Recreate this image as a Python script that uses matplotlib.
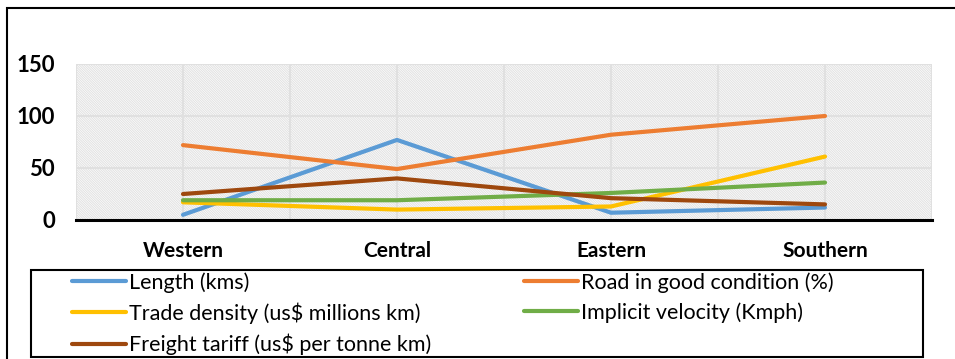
import matplotlib
matplotlib.use("Agg")
import matplotlib.pyplot as plt
from matplotlib.patches import Rectangle
import numpy as np

# ---------------------------------------------------------------------
# Data
# ---------------------------------------------------------------------
regions = ["Western", "Central", "Eastern", "Southern"]
length_kms = [5, 77, 7, 12]
road_good = [72, 49, 82, 100]
trade_density = [17, 10, 13, 61]
implicit_velocity = [19, 19, 26, 36]
freight_tariff = [25, 40, 21, 15]

series = [
    ("Length (kms)", length_kms, "#5B9BD5"),
    ("Road in good condition (%)", road_good, "#ED7D31"),
    ("Trade density (us$ millions km)", trade_density, "#FFC000"),
    ("Implicit velocity (Kmph)", implicit_velocity, "#70AD47"),
    ("Freight tariff (us$ per tonne km)", freight_tariff, "#9E480E"),
]

# ---------------------------------------------------------------------
# Plot settings
# ---------------------------------------------------------------------
plt.rcParams['font.family'] = ['Lato', 'DejaVu Sans']
plt.rcParams['hatch.linewidth'] = 0.75

fig = plt.figure(figsize=(9.55, 3.59), dpi=100)
ax = fig.add_axes([76 / 955, 1 - 220 / 359, (932 - 76) / 955, (220 - 64) / 359])

# categories sit on every other slot of an 8-slot axis
xpos = np.arange(len(regions)) * 2 + 1

ax.set_xlim(0, 8)
ax.set_ylim(0, 150)

# hatched plot background
ax.add_patch(Rectangle((0, 0), 8, 150, facecolor="white", edgecolor="#e2e2e2",
                       hatch="\\" * 14, lw=0, zorder=0))

lines = {}
for name, vals, col in series:
    lines[name], = ax.plot(xpos, vals, color=col, lw=3, label=name,
                           solid_capstyle="round", zorder=3)

ax.set_yticks([0, 50, 100, 150])
ax.set_xticks(np.arange(0, 9))
ax.grid(True, color="#e0e0e0", lw=1.5, zorder=1)
ax.set_axisbelow(True)
ax.tick_params(length=0)
ax.set_xticklabels([])
for lbl in ax.get_yticklabels():
    lbl.set_fontweight("bold")
    lbl.set_fontsize(16)
ax.tick_params(axis="y", pad=15)

for x, name in zip(xpos, regions):
    ax.text(x, -30, name, ha="center", va="center", fontsize=15, fontweight="bold")

for s in ["top", "right", "left"]:
    ax.spines[s].set_visible(False)
ax.spines["bottom"].set_linewidth(2.2)
ax.spines["bottom"].set_color("black")

# legend filled row by row: matplotlib fills columns first
order = ["Length (kms)", "Trade density (us$ millions km)", "Freight tariff (us$ per tonne km)",
         "Road in good condition (%)", "Implicit velocity (Kmph)"]
leg = fig.legend([lines[n] for n in order], order, loc="upper left", ncol=2,
                 bbox_to_anchor=(70 / 955, 1 - 270 / 359),
                 fontsize=15.5, frameon=False, handlelength=2.5,
                 handletextpad=0.15, labelspacing=0.45, borderpad=0.1,
                 columnspacing=4.3, borderaxespad=0)

# legend frame
fig.add_artist(Rectangle((31 / 955, 1 - 357 / 359), (923 - 31) / 955, (357 - 270) / 359,
                         transform=fig.transFigure, fill=False, edgecolor="black", lw=1.5))

# outer chart border
fig.add_artist(Rectangle((7 / 955, -0.05), 1.05, 1 - 8 / 359 + 0.05, transform=fig.transFigure,
                         fill=False, edgecolor="black", lw=1.5))

fig.savefig("out.png", dpi=100)
